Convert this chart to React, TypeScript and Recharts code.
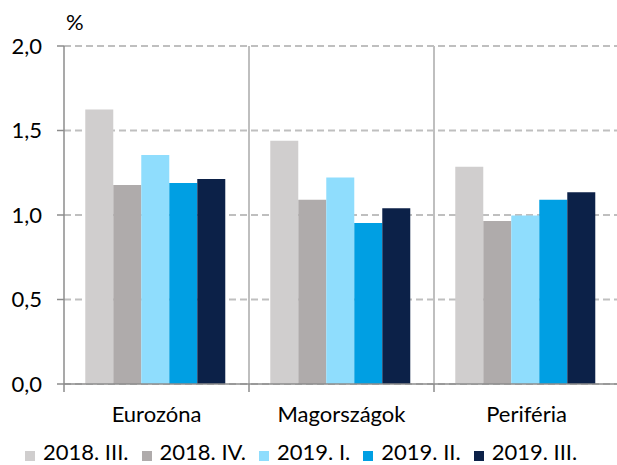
import React from 'react';
import { BarChart, Bar, XAxis, YAxis, CartesianGrid, ReferenceLine, Legend } from 'recharts';

const categories = ['Eurozóna', 'Magországok', 'Periféria'];
const seriesNames = ['2018. III.', '2018. IV.', '2019. I.', '2019. II.', '2019. III.'];
const s2018III = [1.625, 1.44, 1.285];
const s2018IV = [1.178, 1.09, 0.965];
const s2019I = [1.355, 1.222, 0.997];
const s2019II = [1.19, 0.953, 1.09];
const s2019III = [1.213, 1.04, 1.134];
const yTicks = [0, 0.5, 1, 1.5, 2];

const seriesValues = [s2018III, s2018IV, s2019I, s2019II, s2019III];
const colors = ['#d0cece', '#afabab', '#8fddfd', '#009fe3', '#0c2148'];
const keys = ['a', 'b', 'c', 'd', 'e'];

const data = categories.map((c, i) => {
  const row: any = { cat: c };
  keys.forEach((k, j) => { row[k] = seriesValues[j][i]; });
  return row;
});

const FONT = 'Lato, "Open Sans", sans-serif';
const FS = 22;
const AXIS = '#8c8c8c';
const GRID = '#bfbfbf';

const fmt = (v: number) => v.toFixed(1).replace('.', ',');

const LegendContent = (props: any) => {
  const payload = props.payload || [];
  return (
    <div style={{ display: 'flex', alignItems: 'center', fontFamily: FONT, fontSize: FS, lineHeight: '19px', color: '#000', whiteSpace: 'nowrap' }}>
      {payload.map((e: any, i: number) => (
        <span key={i} style={{ display: 'flex', alignItems: 'center', marginRight: 13 }}>
          <span style={{ display: 'inline-block', width: 10, height: 10, background: e.color, marginRight: 8, position: 'relative', top: 4 }} />
          <span>{e.value}</span>
        </span>
      ))}
    </div>
  );
};

const PercentLabel = (props: any) => {
  const vb = props.viewBox || {};
  return (
    <text x={(vb.x || 0) + (vb.width || 0) + 2} y={(vb.y || 0) - 16} fontFamily={FONT} fontSize={FS} fill="#000">%</text>
  );
};

export default function App() {
  return (
    <div style={{ position: 'absolute', left: 0, top: 0, width: 617, height: 465, background: '#fff' }}>
      <BarChart
        width={617}
        height={465}
        data={data}
        margin={{ top: 46, right: -2, bottom: 0, left: 0 }}
        barCategoryGap="11.5%"
        barGap={0}
      >
        <CartesianGrid vertical={false} stroke={GRID} strokeWidth={2} strokeDasharray="7 4" />
        <XAxis
          dataKey="cat"
          height={62}
          axisLine={{ stroke: AXIS, strokeWidth: 1.5 }}
          tickLine={false}
          tickSize={0}
          tickMargin={22}
          tick={{ fontFamily: FONT, fontSize: FS, fill: '#000' }}
          interval={0}
        />
        <YAxis
          width={64}
          domain={[0, 2]}
          ticks={yTicks}
          tickFormatter={fmt}
          axisLine={{ stroke: AXIS, strokeWidth: 1.5 }}
          tickLine={{ stroke: AXIS, strokeWidth: 1.5 }}
          tickSize={7}
          tickMargin={15}
          tick={{ fontFamily: FONT, fontSize: FS, fill: '#000' }}
          label={{ content: PercentLabel }}
        />
        {categories.slice(1).map((c) => (
          <ReferenceLine key={'sep' + c} x={c} position="start" stroke={GRID} strokeWidth={2} />
        ))}
        {categories.map((c) => (
          <ReferenceLine
            key={'tick' + c}
            segment={[{ x: c, y: 0 }, { x: c, y: -0.047 }]}
            position="start"
            ifOverflow="visible"
            stroke={AXIS}
            strokeWidth={1.5}
          />
        ))}
        <Legend
          verticalAlign="bottom"
          content={LegendContent}
          wrapperStyle={{ left: 25, top: 442, width: 590, height: 19 }}
        />
        {keys.map((k, j) => (
          <Bar key={k} dataKey={k} name={seriesNames[j]} fill={colors[j]} isAnimationActive={false} />
        ))}
      </BarChart>
    </div>
  );
}
